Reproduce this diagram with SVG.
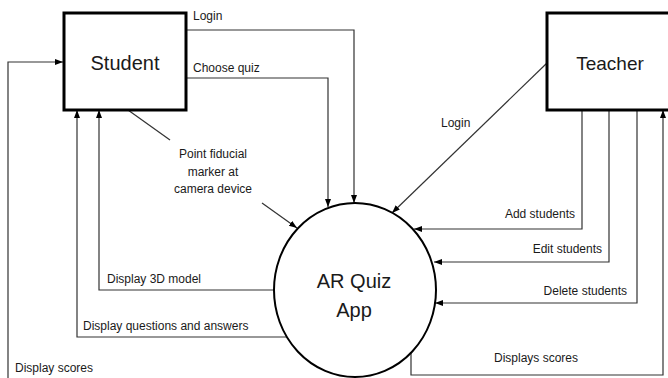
<svg xmlns="http://www.w3.org/2000/svg" width="668" height="378" viewBox="0 0 668 378">
<style>
.box{fill:#fff;stroke:#000;stroke-width:3}
.proc{fill:#fff;stroke:#000;stroke-width:2}
.c{fill:none;stroke:#333;stroke-width:1.2}
.a{marker-end:url(#arr)}
text{font-family:"Liberation Sans",Arial,sans-serif;fill:#1a1a1a}
.big{font-size:20px;text-anchor:middle}
.lbl{font-size:12px}
.mid{text-anchor:middle}
.end{text-anchor:end}
</style>
<defs>
<marker id="arr" markerUnits="userSpaceOnUse" markerWidth="9" markerHeight="7" refX="8" refY="3" orient="auto">
<path d="M0,0 L8,3 L0,6 z" fill="#000"/>
</marker>
</defs>
<rect width="668" height="378" fill="#fff"/>
<g id="connectors">
<path class="c a" d="M186,30 H354 V203"/>
<path class="c a" d="M186,78 H328 V207"/>
<path class="c" d="M128,110 L170,140"/>
<path class="c a" d="M262,203 L297,228"/>
<path class="c a" d="M547,63 L392,213"/>
<path class="c a" d="M582,110 V229 H414"/>
<path class="c a" d="M609,110 V262 H434"/>
<path class="c a" d="M637,110 V303 H435"/>
<path class="c a" d="M411,353 V375 H663 V110"/>
<path class="c a" d="M274,290 H99 V110"/>
<path class="c a" d="M287,337 H77 V110"/>
<path class="c a" d="M8,378 V62 H63"/>
</g>
<g id="labels">
<text class="lbl" x="193" y="20">Login</text>
<text class="lbl" x="193" y="72">Choose quiz</text>
<text class="lbl mid" x="213" y="158">Point fiducial</text>
<text class="lbl mid" x="213" y="176">marker at</text>
<text class="lbl mid" x="213" y="193">camera device</text>
<text class="lbl" x="441" y="127">Login</text>
<text class="lbl end" x="575" y="218">Add students</text>
<text class="lbl end" x="602" y="253">Edit students</text>
<text class="lbl end" x="627" y="295">Delete students</text>
<text class="lbl" x="494" y="362">Displays scores</text>
<text class="lbl" x="107" y="283">Display 3D model</text>
<text class="lbl" x="83" y="330">Display questions and answers</text>
<text class="lbl" x="15" y="372">Display scores</text>
</g>
<g id="student">
<rect class="box" x="64" y="13" width="122" height="97"/>
<text class="big" x="125" y="70">Student</text>
</g>
<g id="teacher">
<rect class="box" x="547" y="13" width="126" height="97"/>
<text class="big" x="610" y="70" style="font-size:19px">Teacher</text>
</g>
<g id="app">
<ellipse class="proc" cx="355" cy="290" rx="81" ry="87"/>
<text class="big" x="354" y="288">AR Quiz</text>
<text class="big" x="354" y="317">App</text>
</g>
</svg>
